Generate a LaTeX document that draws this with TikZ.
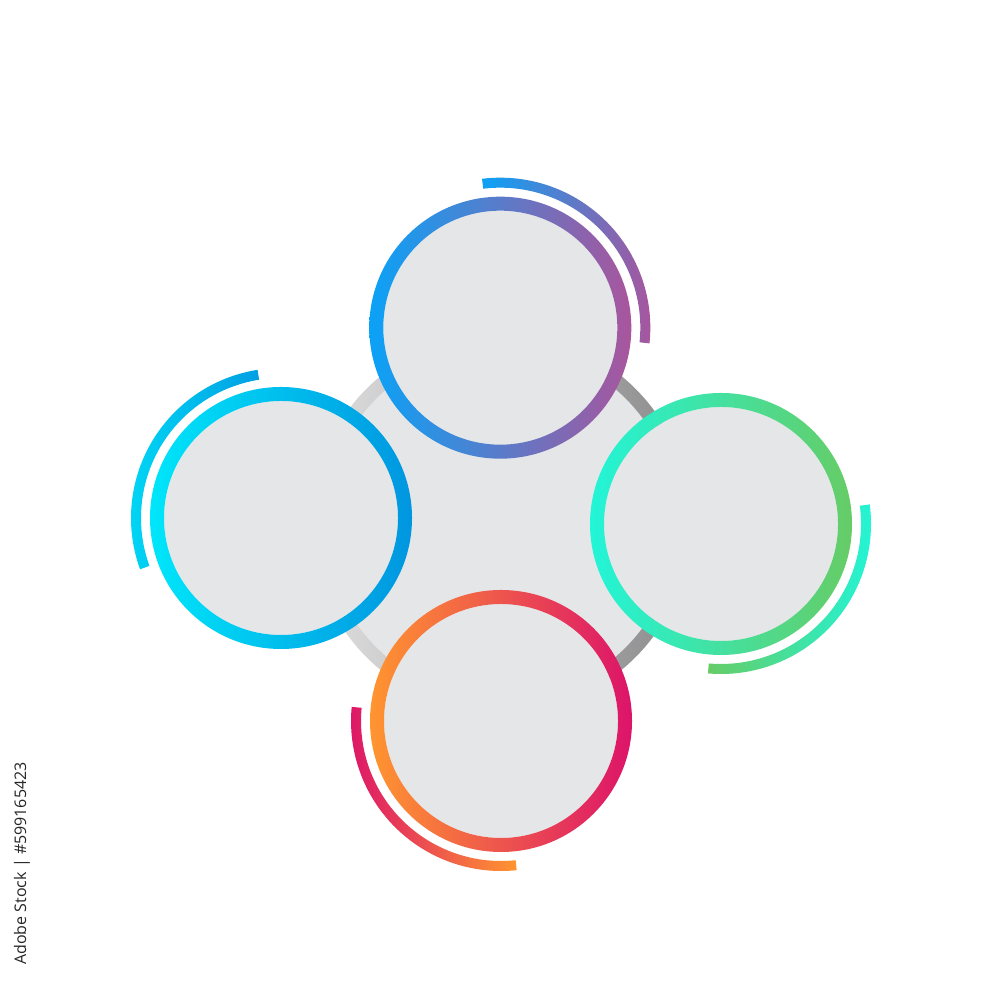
\documentclass[tikz,border=0pt]{standalone}
\usepackage{tikz}
\usepackage{tkz-euclide}
\usepackage{xcolor}
\usepackage{fontspec}
\newfontfamily\marcafonte{Open Sans}

\definecolor{fundoCirculo}{HTML}{E5E6E8}
\definecolor{cinzaClaro}{HTML}{E0E0E0}
\definecolor{cinzaEscuro}{HTML}{8A8A8A}
\definecolor{azulTopo}{HTML}{0AA2F7}
\definecolor{roxoTopo}{HTML}{A9559C}
\definecolor{cianoEsq}{HTML}{00E6FA}
\definecolor{azulEsq}{HTML}{0096E0}
\definecolor{turquesaDir}{HTML}{22F5D8}
\definecolor{verdeDir}{HTML}{66CC66}
\definecolor{laranjaBaixo}{HTML}{FF9530}
\definecolor{carmimBaixo}{HTML}{DC146A}

\begin{document}
\begin{tikzpicture}[
  anelTopo/.style={left color=azulTopo, right color=roxoTopo},
  anelEsq/.style={left color=cianoEsq, right color=azulEsq},
  anelDir/.style={left color=turquesaDir, right color=verdeDir},
  anelBaixo/.style={left color=laranjaBaixo, right color=carmimBaixo},
  arcoTopo/.style={left color=azulTopo, right color=roxoTopo},
  arcoEsq/.style={left color=cianoEsq!80!azulEsq, right color=azulEsq},
  arcoDir/.style={left color=verdeDir, right color=turquesaDir},
  arcoBaixo/.style={left color=carmimBaixo, right color=laranjaBaixo}] %define as cores de cada anel

%O fundo branco fixa o tamanho da figura (10 x 10)
\fill[white] (0,0) rectangle (10,10);
\useasboundingbox (0,0) rectangle (10,10);

%O comando \tkzDefPoints define os centros dos circulos (x/y/NomedoPonto)
\tkzDefPoints{
5.01/4.77/C,
5.003/6.723/T,
2.81/4.82/L,
7.21/4.76/R,
5.01/2.79/B}

%Circulo central: anel cinza (claro a esquerda, escuro a direita) e disco cinza por dentro
%---------------------------------------------------
\shade[left color=cinzaClaro, right color=cinzaEscuro] (C) circle (1.90);
\fill[fundoCirculo] (C) circle (1.76);
%---------------------------------------------------

%Circulo de cima: anel azul-roxo e arco externo de 97 a -6 graus
%---------------------------------------------------
\fill[fundoCirculo] (T) circle (1.17);
\shade[anelTopo, even odd rule] (T) circle (1.31) (T) circle (1.17);
\shade[arcoTopo] (T) ++(97:1.50) arc[start angle=97, end angle=-6, radius=1.50]
  -- ++(-6:-0.10) arc[start angle=-6, end angle=97, radius=1.40] -- cycle;
%---------------------------------------------------

%Circulo da esquerda: anel ciano-azul e arco externo de 99 a 200 graus
%---------------------------------------------------
\fill[fundoCirculo] (L) circle (1.17);
\shade[anelEsq, even odd rule] (L) circle (1.31) (L) circle (1.17);
\shade[arcoEsq] (L) ++(99:1.50) arc[start angle=99, end angle=200, radius=1.50]
  -- ++(200:-0.10) arc[start angle=200, end angle=99, radius=1.40] -- cycle;
%---------------------------------------------------

%Circulo da direita: anel turquesa-verde e arco externo de 7 a -95 graus
%---------------------------------------------------
\fill[fundoCirculo] (R) circle (1.17);
\shade[anelDir, even odd rule] (R) circle (1.31) (R) circle (1.17);
\shade[arcoDir] (R) ++(7.5:1.50) arc[start angle=7.5, end angle=-95, radius=1.50]
  -- ++(-95:-0.10) arc[start angle=-95, end angle=7.5, radius=1.40] -- cycle;
%---------------------------------------------------

%Circulo de baixo: anel laranja-carmim e arco externo de 175 a 276 graus
%---------------------------------------------------
\fill[fundoCirculo] (B) circle (1.17);
\shade[anelBaixo, even odd rule] (B) circle (1.31) (B) circle (1.17);
\shade[arcoBaixo] (B) ++(174.6:1.50) arc[start angle=174.6, end angle=276, radius=1.50]
  -- ++(276:-0.10) arc[start angle=276, end angle=174.6, radius=1.40] -- cycle;
%---------------------------------------------------

%Texto vertical no canto esquerdo
%---------------------------------------------------
\node[rotate=90, text=black!85, inner sep=0pt, font=\marcafonte\fontsize{4.55}{5}\selectfont] (marca) at (0.22,1.365) {Adobe Stock | \#599165423};
%---------------------------------------------------

\end{tikzpicture}
\end{document}
